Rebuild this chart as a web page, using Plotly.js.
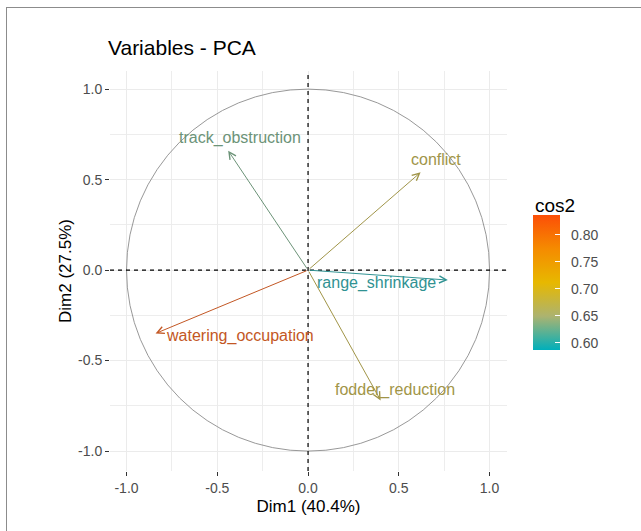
<!DOCTYPE html>
<html>
<head>
<meta charset="utf-8">
<script src="https://cdn.plot.ly/plotly-3.0.1.min.js"></script>
<style>
  html, body { margin: 0; padding: 0; background: #fff; }
  #wrap { position: relative; width: 641px; height: 531px; overflow: hidden; }
  #chart { width: 641px; height: 531px; }
  #frame { position: absolute; left: 6px; top: 7px; width: 700px; height: 600px;
           border-left: 1.5px solid #8c8c8c; border-top: 1.5px solid #8c8c8c; pointer-events: none; }
</style>
</head>
<body>
<div id="wrap"><div id="chart"></div><div id="frame"></div></div>
<script>
// ---- data ----
const variables = ['track_obstruction', 'conflict', 'range_shrinkage', 'watering_occupation', 'fodder_reduction'];
const dim1 = [-0.44, 0.62, 0.77, -0.84, 0.40];
const dim2 = [0.66, 0.54, -0.055, -0.35, -0.72];
const cos2 = [0.63, 0.676, 0.596, 0.83, 0.678];
const axisTickVals = [-1, -0.5, 0, 0.5, 1];
const axisTickText = ['-1.0', '-0.5', '0.0', '0.5', '1.0'];
const cbTickVals = [0.60, 0.65, 0.70, 0.75, 0.80];
const cbTickText = ['0.60', '0.65', '0.70', '0.75', '0.80'];

// ---- styling ----
const labelShift = [[12, 13], [15, 13], [-71, -3], [84, -3], [14, 10]]; // pixel offsets of labels
const cmin = 0.587, cmax = 0.837;
const colorscale = [[0, '#00AFBB'], [0.25, '#ACB370'], [0.5, '#E7B800'], [0.75, '#F58B00'], [1, '#FC4E07']];

function hexToRgb(h) { return [parseInt(h.slice(1,3),16), parseInt(h.slice(3,5),16), parseInt(h.slice(5,7),16)]; }
function scaleColor(v) {
  let t = (v - cmin) / (cmax - cmin);
  t = Math.max(0, Math.min(1, t));
  for (let i = 0; i < colorscale.length - 1; i++) {
    const [t0, c0] = colorscale[i], [t1, c1] = colorscale[i+1];
    if (t >= t0 && t <= t1) {
      const f = (t - t0) / (t1 - t0);
      const a = hexToRgb(c0), b = hexToRgb(c1);
      // slightly muted tone, as the labels and arrows appear in the reference
      const rgb = a.map((x, k) => Math.round((x + (b[k] - x) * f) * 0.65 + 90 * 0.35));
      return 'rgb(' + rgb.join(',') + ')';
    }
  }
  return colorscale[colorscale.length-1][1];
}

const FONT = 'Liberation Sans, Arial, sans-serif';
const annotations = [];
variables.forEach((name, i) => {
  const col = scaleColor(cos2[i]);
  annotations.push({
    x: dim1[i], y: dim2[i], xref: 'x', yref: 'y',
    ax: 0, ay: 0, axref: 'x', ayref: 'y',
    text: '', showarrow: true, arrowhead: 5, arrowsize: 1.4, arrowwidth: 1,
    arrowcolor: col, standoff: 0
  });
  annotations.push({
    x: dim1[i], y: dim2[i], xref: 'x', yref: 'y',
    text: name, showarrow: false, xshift: labelShift[i][0], yshift: labelShift[i][1],
    font: { family: FONT, size: 16, color: col }
  });
});
// colour bar title
annotations.push({
  xref: 'paper', yref: 'paper', x: (533 - 110) / 397, y: (471 - 205) / 400, xanchor: 'left', yanchor: 'middle',
  text: 'cos2', showarrow: false, font: { family: FONT, size: 19, color: '#000' }
});

const axisCommon = {
  tickmode: 'array', tickvals: axisTickVals, ticktext: axisTickText,
  showgrid: true, gridcolor: '#EBEBEB', gridwidth: 1,
  minor: { tickmode: 'array', tickvals: [-0.75, -0.25, 0.25, 0.75], showgrid: true, gridcolor: '#EBEBEB', gridwidth: 0.9, ticks: '' },
  zeroline: false, showline: false,
  ticks: 'outside', ticklen: 4, tickwidth: 1, tickcolor: '#333333',
  tickfont: { family: FONT, size: 14, color: '#4D4D4D' },
  fixedrange: true
};

const trace = {
  x: dim1, y: dim2, type: 'scatter', mode: 'markers', hoverinfo: 'skip', showlegend: false,
  marker: {
    size: 1, opacity: 0, color: cos2, colorscale: colorscale, cmin: cmin, cmax: cmax, showscale: true,
    colorbar: {
      xref: 'paper', yref: 'paper', x: (533 - 110) / 397, xanchor: 'left', y: (471 - 282.5) / 400, yanchor: 'middle',
      lenmode: 'pixels', len: 135, thickness: 27, thicknessmode: 'pixels', outlinewidth: 0, xpad: 0, ypad: 0,
      tickmode: 'array', tickvals: cbTickVals, ticktext: cbTickText.map(s => '\u00a0\u00a0' + s),
      ticks: 'inside', ticklen: 5, tickcolor: '#ffffff', tickwidth: 1,
      tickfont: { family: FONT, size: 14, color: '#4D4D4D' }
    }
  }
};

const layout = {
  width: 641, height: 531,
  margin: { l: 110, r: 134, t: 71, b: 60 },
  paper_bgcolor: '#ffffff', plot_bgcolor: '#ffffff',
  title: { text: 'Variables - PCA', xref: 'container', yref: 'container', x: 108/641, xanchor: 'left',
           y: 1 - 48/531, yanchor: 'middle', font: { family: FONT, size: 21, color: '#000' } },
  xaxis: Object.assign({}, axisCommon, { range: [-1.091, 1.096],
           title: { text: 'Dim1 (40.4%)', font: { family: FONT, size: 17, color: '#000' }, standoff: 5 } }),
  yaxis: Object.assign({}, axisCommon, { range: [-1.11, 1.10],
           title: { text: 'Dim2 (27.5%)', font: { family: FONT, size: 17, color: '#000' }, standoff: 2 } }),
  shapes: [
    { type: 'circle', xref: 'x', yref: 'y', x0: -1, x1: 1, y0: -1, y1: 1, line: { color: '#8c8c8c', width: 0.9 }, layer: 'above' },
    { type: 'line', xref: 'x', yref: 'paper', x0: 0, x1: 0, y0: 0, y1: 1, line: { color: '#000', width: 1.2, dash: '4px,4px' }, layer: 'above' },
    { type: 'line', xref: 'paper', yref: 'y', x0: 0, x1: 1, y0: 0, y1: 0, line: { color: '#000', width: 1.2, dash: '4px,4px' }, layer: 'above' }
  ],
  annotations: annotations,
  font: { family: FONT }
};

Plotly.newPlot('chart', [trace], layout, { displayModeBar: false, staticPlot: true });
</script>
</body>
</html>
